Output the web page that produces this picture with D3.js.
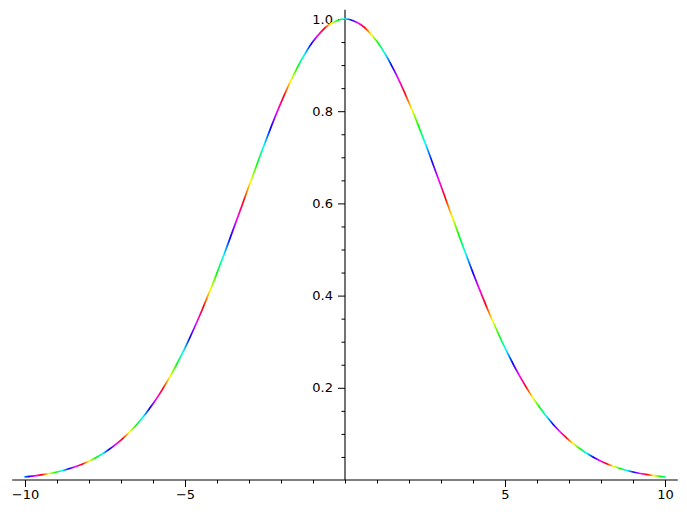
<!DOCTYPE html>
<html>
<head>
<meta charset="utf-8">
<script src="https://cdn.jsdelivr.net/npm/d3@7"></script>
<style>
  html, body { margin: 0; padding: 0; background: #fff; }
  svg { display: block; }
  text { font-family: "DejaVu Sans", sans-serif; font-size: 13px; fill: #000; }
</style>
</head>
<body>
<svg id="chart" width="687" height="514"></svg>
<script>
// Data (symmetric bell curve)
const xValues = [-10, -9.5, -9, -8.5, -8, -7.5, -7, -6.5, -6, -5.5, -5, -4.5, -4, -3.5, -3, -2.5, -2, -1.5, -1, -0.5,
                 0, 0.5, 1, 1.5, 2, 2.5, 3, 3.5, 4, 4.5, 5, 5.5, 6, 6.5, 7, 7.5, 8, 8.5, 9, 9.5, 10];
const yValues = [0.0067, 0.0110, 0.0174, 0.0270, 0.0408, 0.0601, 0.0863, 0.1209, 0.1653, 0.2204, 0.2865, 0.3633, 0.4493, 0.5420, 0.6376, 0.7316, 0.8187, 0.8936, 0.9512, 0.9876,
                 1.0000, 0.9876, 0.9512, 0.8936, 0.8187, 0.7316, 0.6376, 0.5420, 0.4493, 0.3633, 0.2865, 0.2204, 0.1653, 0.1209, 0.0863, 0.0601, 0.0408, 0.0270, 0.0174, 0.0110, 0.0067];
const xMajorTicks = [-10, -5, 5, 10];
const xMinorTicks = [-10, -9, -8, -7, -6, -5, -4, -3, -2, -1, 0, 1, 2, 3, 4, 5, 6, 7, 8, 9, 10];
const yMajorTicks = [0.2, 0.4, 0.6, 0.8, 1.0];
const yMinorTicks = [0.05, 0.1, 0.15, 0.25, 0.3, 0.35, 0.45, 0.5, 0.55, 0.65, 0.7, 0.75, 0.85, 0.9, 0.95, 1.0];
const hueColors = ["#ff0000", "#ffff00", "#00ff00", "#00ffff", "#0000ff", "#ff00ff", "#ff0000"];
const huePhaseX = -9.47;   // x where the colour cycle is red
const huePeriod = 1.2606;  // x length of one colour cycle

const svg = d3.select("#chart");
const x = d3.scaleLinear().domain([-10, 10]).range([25, 665]);
const y = d3.scaleLinear().domain([0, 1]).range([480, 19]);

// Rainbow gradient repeating along x
const defs = svg.append("defs");
const grad = defs.append("linearGradient")
  .attr("id", "rainbow")
  .attr("gradientUnits", "userSpaceOnUse")
  .attr("spreadMethod", "repeat")
  .attr("x1", x(huePhaseX)).attr("y1", 0)
  .attr("x2", x(huePhaseX + huePeriod)).attr("y2", 0);
hueColors.forEach((c, i) => {
  grad.append("stop").attr("offset", i / (hueColors.length - 1)).attr("stop-color", c);
});

// Axes lines
const axisColor = "#000";
svg.append("line").attr("x1", x(-10.4)).attr("x2", x(10.4)).attr("y1", y(0)).attr("y2", y(0))
  .attr("stroke", axisColor).attr("stroke-width", 1.1);
svg.append("line").attr("x1", x(0)).attr("x2", x(0)).attr("y1", y(0)).attr("y2", y(1.02))
  .attr("stroke", axisColor).attr("stroke-width", 1.1);

// X axis ticks (pointing down)
const xAxisMinor = d3.axisBottom(x).tickValues(xMinorTicks).tickSize(3.5).tickFormat("");
const xAxisMajor = d3.axisBottom(x).tickValues(xMajorTicks).tickSize(7).tickPadding(3);
const gxm = svg.append("g").attr("transform", `translate(0,${y(0)})`).call(xAxisMinor);
const gx = svg.append("g").attr("transform", `translate(0,${y(0)})`).call(xAxisMajor);
[gxm, gx].forEach(g => {
  g.select(".domain").remove();
  g.selectAll("line").attr("stroke", axisColor).attr("stroke-width", 1);
});
gx.selectAll("text").attr("font-size", 13).attr("font-family", "DejaVu Sans, sans-serif").attr("fill", "#000");

// Y axis ticks (pointing left)
const yAxisMinor = d3.axisLeft(y).tickValues(yMinorTicks).tickSize(3.5).tickFormat("");
const yAxisMajor = d3.axisLeft(y).tickValues(yMajorTicks).tickSize(7).tickPadding(5).tickFormat(d3.format(".1f"));
const gym = svg.append("g").attr("transform", `translate(${x(0)},0)`).call(yAxisMinor);
const gy = svg.append("g").attr("transform", `translate(${x(0)},0)`).call(yAxisMajor);
[gym, gy].forEach(g => {
  g.select(".domain").remove();
  g.selectAll("line").attr("stroke", axisColor).attr("stroke-width", 1);
});
gy.selectAll("text").attr("font-size", 13).attr("font-family", "DejaVu Sans, sans-serif").attr("fill", "#000");

// Curve
const pts = xValues.map((v, i) => [v, yValues[i]]);
const lineGen = d3.line().x(d => x(d[0])).y(d => y(d[1])).curve(d3.curveCatmullRom);
svg.append("path")
  .attr("d", lineGen(pts))
  .attr("fill", "none")
  .attr("stroke", "url(#rainbow)")
  .attr("stroke-width", 1.7)
  .attr("stroke-linecap", "round");
</script>
</body>
</html>
